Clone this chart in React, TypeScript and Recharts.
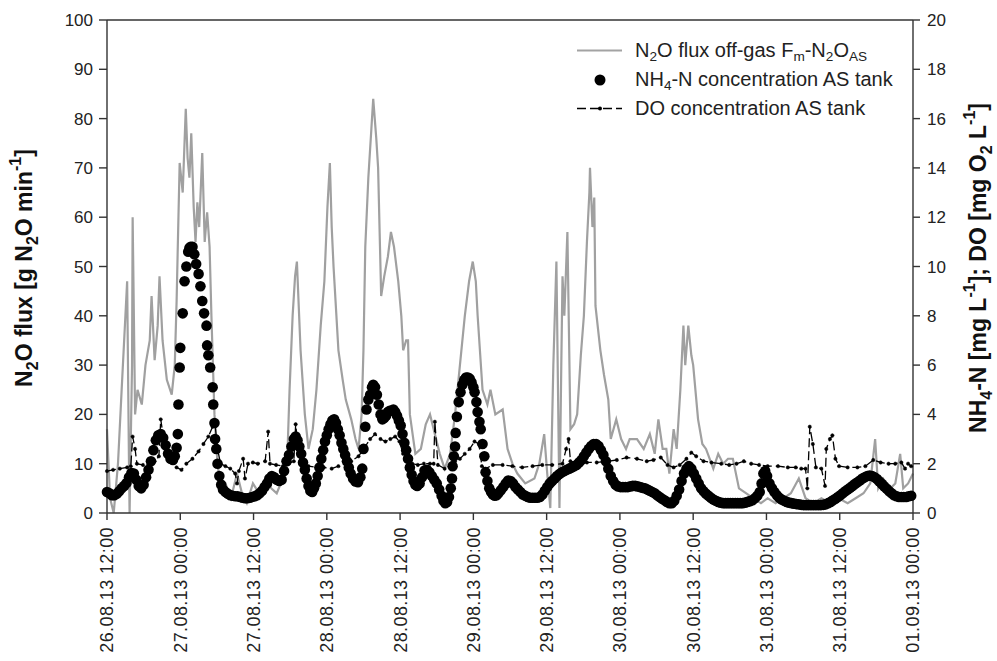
import React from 'react';
import { ComposedChart, Line, Scatter, XAxis, YAxis, ReferenceLine } from 'recharts';

// hours since 26.08.13 12:00
const tickHours = [0, 12, 24, 36, 48, 60, 72, 84, 96, 108, 120, 132];
const tickLabels = [
  '26.08.13 12:00', '27.08.13 00:00', '27.08.13 12:00', '28.08.13 00:00',
  '28.08.13 12:00', '29.08.13 00:00', '29.08.13 12:00', '30.08.13 00:00',
  '30.08.13 12:00', '31.08.13 00:00', '31.08.13 12:00', '01.09.13 00:00',
];
const fluxTicks = [0, 10, 20, 30, 40, 50, 60, 70, 80, 90, 100];
const concTicks = [0, 2, 4, 6, 8, 10, 12, 14, 16, 18, 20];

// N2O flux off-gas [g N2O/min]: [hour, value]
const n2oFlux: [number, number][] = [
  [0, 17], [0.5, 3], [1.1, 0], [1.8, 10], [2.4, 25], [3.3, 47], [3.6, 10], [3.7, 0], [4.1, 30], [4.2, 60],
  [4.6, 20], [5.0, 25], [5.7, 22], [6.3, 30], [7.0, 35], [7.3, 44], [7.8, 31], [8.3, 38], [8.6, 48], [9.1, 35],
  [9.8, 27], [10.6, 24], [11.1, 30], [11.4, 43], [11.7, 60], [11.9, 71], [12.4, 65], [12.9, 82], [13.2, 72], [13.5, 68],
  [13.8, 77], [14.2, 62], [14.5, 55], [14.8, 63], [15.1, 58], [15.6, 73], [16.0, 55], [16.4, 61], [16.8, 54], [17.1, 40],
  [17.6, 20], [18.1, 10], [18.6, 5], [19.4, 6], [20.3, 3], [21.3, 8], [22.1, 4], [22.9, 2], [23.9, 6], [24.9, 4],
  [25.9, 7], [26.9, 5], [27.8, 4], [28.8, 7], [29.5, 10], [29.9, 25], [30.4, 40], [30.8, 48], [31.1, 51], [31.4, 42],
  [31.7, 33], [32.4, 20], [33.0, 13], [33.7, 17], [34.3, 25], [35.0, 38], [35.6, 47], [36.1, 62], [36.5, 71], [36.8, 58],
  [37.1, 50], [37.9, 33], [38.6, 27], [39.1, 23], [40.0, 19], [40.7, 15], [41.2, 13], [41.7, 20], [42.0, 33], [42.3, 54],
  [42.8, 68], [43.3, 78], [43.6, 84], [44.1, 76], [44.4, 70], [44.9, 44], [45.4, 48], [46.0, 52], [46.5, 57], [47.0, 54],
  [47.7, 47], [48.2, 40], [48.5, 33], [49.0, 35], [49.3, 35], [49.6, 20], [50.5, 12], [51.4, 13], [52.2, 18], [52.9, 20],
  [53.7, 16], [54.5, 12], [55.3, 9], [56.2, 12], [57.0, 20], [57.8, 30], [58.6, 40], [59.3, 47], [59.9, 51], [60.4, 47],
  [60.7, 40], [61.5, 25], [62.3, 22], [62.8, 25], [63.6, 20], [64.8, 21], [65.6, 13], [66.4, 10], [67.2, 8], [68.5, 6],
  [70.0, 7], [70.8, 10], [71.6, 16], [72.1, 8], [72.6, 1], [73.1, 30], [73.6, 51], [74.1, 1], [74.4, 30], [74.6, 48],
  [74.9, 40], [75.4, 57], [75.9, 17], [76.5, 18], [77.0, 20], [77.6, 32], [78.1, 40], [78.6, 55], [79.0, 65], [79.1, 70],
  [79.5, 58], [79.8, 64], [80.0, 42], [80.8, 33], [81.4, 28], [82.1, 23], [82.5, 15], [83.4, 19], [84.2, 15], [85.0, 13],
  [85.6, 15], [86.8, 15], [87.9, 13], [88.9, 16], [89.7, 12], [90.3, 19], [91.0, 13], [91.6, 13], [92.1, 8], [92.8, 17],
  [93.3, 13], [93.9, 25], [94.4, 38], [94.7, 30], [95.2, 38], [95.7, 32], [96.0, 30], [96.8, 19], [97.5, 14], [98.1, 13],
  [99.3, 9], [100.1, 12], [100.9, 10], [101.7, 11], [102.5, 11], [103.5, 5], [104.7, 4], [105.8, 3], [107.1, 2], [108.2, 3],
  [109.5, 2], [110.8, 3], [112.0, 4], [113.3, 7], [114.4, 3], [115.7, 2], [117.0, 3], [118.5, 2], [119.8, 3], [121.3, 2],
  [122.6, 3], [123.9, 4], [125.0, 6], [125.8, 15], [126.3, 5], [127.1, 7], [128.3, 5], [129.1, 6], [129.9, 12], [130.4, 5],
  [131.2, 6], [132, 8],
];

// NH4-N concentration AS tank [mg/L]: [hour, value]
const nh4Conc: [number, number][] = [
  [0, 0.85], [0.4, 0.8], [0.8, 0.72], [1.2, 0.72], [1.6, 0.78], [2.0, 0.88], [2.4, 1.0], [2.8, 1.1], [3.2, 1.22], [3.6, 1.45],
  [4.0, 1.62], [4.4, 1.6], [4.8, 1.35], [5.2, 1.1], [5.6, 1.0], [6.0, 1.15], [6.4, 1.45], [6.8, 1.75], [7.2, 2.1], [7.6, 2.55],
  [8.0, 2.95], [8.4, 3.15], [8.8, 3.2], [9.2, 3.05], [9.6, 2.75], [10.0, 2.4], [10.4, 2.2], [10.8, 2.15], [11.1, 2.3], [11.4, 2.65],
  [11.6, 3.2], [11.7, 4.4], [11.9, 5.9], [12.0, 6.7], [12.4, 8.1], [12.7, 9.4], [13.0, 10.0], [13.3, 10.6], [13.5, 10.75], [13.7, 10.8],
  [14.0, 10.8], [14.3, 10.5], [14.6, 10.1], [15.0, 9.7], [15.3, 9.2], [15.6, 8.6], [15.9, 8.1], [16.3, 7.6], [16.4, 6.8], [16.6, 6.4],
  [16.9, 5.9], [17.3, 5.1], [17.4, 4.4], [17.6, 3.65], [17.7, 3.0], [17.9, 2.6], [18.1, 2.0], [18.4, 1.5], [18.7, 1.15], [19.0, 0.95],
  [19.4, 0.85], [19.8, 0.78], [20.2, 0.72], [20.6, 0.7], [21.0, 0.68], [21.4, 0.68], [21.8, 0.65], [22.2, 0.62], [22.6, 0.6], [23.0, 0.6],
  [23.4, 0.62], [23.8, 0.65], [24.2, 0.68], [24.6, 0.72], [25.0, 0.8], [25.4, 0.9], [25.8, 1.05], [26.2, 1.2], [26.6, 1.4], [27.0, 1.5],
  [27.4, 1.45], [27.8, 1.35], [28.2, 1.3], [28.6, 1.35], [29.0, 1.7], [29.4, 2.1], [29.8, 2.35], [30.2, 2.7], [30.6, 3.0], [30.9, 3.1],
  [31.2, 2.95], [31.5, 2.7], [31.8, 2.4], [32.1, 2.05], [32.4, 1.75], [32.7, 1.4], [33.0, 1.1], [33.3, 0.9], [33.6, 0.85], [33.9, 1.0],
  [34.2, 1.2], [34.5, 1.5], [34.8, 1.85], [35.1, 2.2], [35.4, 2.55], [35.7, 2.9], [36.0, 3.15], [36.3, 3.4], [36.6, 3.6], [36.9, 3.75],
  [37.2, 3.8], [37.5, 3.65], [37.8, 3.4], [38.1, 3.15], [38.4, 2.85], [38.7, 2.6], [39.0, 2.35], [39.3, 2.1], [39.6, 1.85], [39.9, 1.6],
  [40.3, 1.4], [40.7, 1.28], [41.1, 1.25], [41.5, 1.45], [41.8, 1.8], [42.0, 2.6], [42.3, 3.5], [42.5, 4.2], [42.8, 4.6], [43.1, 4.8],
  [43.4, 5.1], [43.6, 5.2], [43.9, 5.1], [44.2, 4.8], [44.5, 4.4], [44.8, 4.0], [45.1, 3.8], [45.4, 3.85], [45.7, 3.95], [46.0, 4.1],
  [46.3, 4.15], [46.6, 4.15], [46.9, 4.2], [47.2, 4.1], [47.5, 3.95], [47.8, 3.75], [48.1, 3.55], [48.4, 3.2], [48.7, 2.85], [49.0, 2.55],
  [49.3, 2.2], [49.6, 1.85], [49.9, 1.55], [50.2, 1.3], [50.5, 1.15], [50.8, 1.1], [51.2, 1.2], [51.6, 1.45], [52.0, 1.72], [52.4, 1.75],
  [52.8, 1.65], [53.2, 1.5], [53.6, 1.35], [54.0, 1.2], [54.4, 0.95], [54.8, 0.7], [55.1, 0.5], [55.4, 0.4], [55.7, 0.45], [56.0, 0.65],
  [56.3, 1.0], [56.5, 1.4], [56.6, 1.9], [56.8, 2.3], [57.0, 2.7], [57.1, 3.25], [57.3, 3.9], [57.6, 4.5], [57.9, 4.9], [58.2, 5.2],
  [58.5, 5.4], [58.8, 5.5], [59.1, 5.5], [59.4, 5.45], [59.7, 5.3], [60.0, 5.1], [60.2, 4.9], [60.5, 4.5], [60.7, 4.1], [61.0, 3.7],
  [61.2, 3.4], [61.5, 2.8], [61.8, 2.3], [62.0, 1.65], [62.3, 1.3], [62.6, 1.0], [62.9, 0.85], [63.2, 0.75], [63.5, 0.7], [63.8, 0.72],
  [64.1, 0.8], [64.5, 0.92], [64.9, 1.05], [65.3, 1.2], [65.7, 1.32], [66.1, 1.3], [66.5, 1.2], [66.9, 1.05], [67.3, 0.95], [67.7, 0.85],
  [68.1, 0.75], [68.5, 0.7], [68.9, 0.65], [69.3, 0.62], [69.7, 0.62], [70.1, 0.62], [70.5, 0.62], [70.9, 0.65], [71.3, 0.75], [71.7, 0.9],
  [72.1, 1.05], [72.5, 1.2], [72.9, 1.3], [73.3, 1.4], [73.7, 1.5], [74.1, 1.58], [74.5, 1.65], [74.9, 1.7], [75.3, 1.75], [75.7, 1.8],
  [76.1, 1.85], [76.5, 1.9], [76.9, 1.95], [77.3, 2.05], [77.7, 2.15], [78.1, 2.3], [78.5, 2.45], [78.9, 2.6], [79.3, 2.72], [79.7, 2.8],
  [80.1, 2.8], [80.5, 2.72], [80.9, 2.55], [81.3, 2.35], [81.7, 2.1], [82.1, 1.8], [82.5, 1.5], [82.9, 1.3], [83.3, 1.15], [83.7, 1.08],
  [84.1, 1.05], [84.5, 1.05], [84.9, 1.05], [85.3, 1.05], [85.7, 1.08], [86.1, 1.1], [86.5, 1.1], [86.9, 1.08], [87.3, 1.05], [87.7, 1.02],
  [88.1, 1.0], [88.5, 0.95], [88.9, 0.9], [89.3, 0.85], [89.7, 0.8], [90.1, 0.72], [90.5, 0.65], [90.9, 0.58], [91.3, 0.52], [91.7, 0.45],
  [92.1, 0.4], [92.5, 0.4], [92.9, 0.5], [93.3, 0.7], [93.7, 0.95], [94.1, 1.3], [94.5, 1.6], [94.9, 1.8], [95.3, 1.9], [95.7, 1.8],
  [96.1, 1.6], [96.5, 1.4], [96.9, 1.2], [97.3, 1.0], [97.7, 0.88], [98.1, 0.78], [98.5, 0.7], [98.9, 0.62], [99.3, 0.55], [99.7, 0.5],
  [100.1, 0.45], [100.5, 0.42], [100.9, 0.4], [101.3, 0.4], [101.7, 0.4], [102.1, 0.4], [102.5, 0.4], [102.9, 0.4], [103.3, 0.4], [103.7, 0.4],
  [104.1, 0.4], [104.5, 0.42], [104.9, 0.45], [105.3, 0.48], [105.7, 0.52], [106.1, 0.6], [106.5, 0.7], [106.9, 0.85], [107.2, 1.2], [107.5, 1.6],
  [107.8, 1.7], [108.1, 1.5], [108.5, 1.2], [108.9, 1.0], [109.3, 0.85], [109.7, 0.72], [110.1, 0.62], [110.5, 0.55], [110.9, 0.5], [111.3, 0.45],
  [111.7, 0.42], [112.1, 0.4], [112.5, 0.38], [112.9, 0.36], [113.3, 0.35], [113.7, 0.33], [114.1, 0.32], [114.5, 0.32], [114.9, 0.32], [115.3, 0.32],
  [115.7, 0.32], [116.1, 0.32], [116.5, 0.32], [116.9, 0.32], [117.3, 0.33], [117.7, 0.35], [118.1, 0.4], [118.5, 0.45], [118.9, 0.52], [119.3, 0.58],
  [119.7, 0.65], [120.1, 0.72], [120.5, 0.8], [120.9, 0.88], [121.3, 0.95], [121.7, 1.02], [122.1, 1.1], [122.5, 1.18], [122.9, 1.25], [123.3, 1.32],
  [123.7, 1.4], [124.1, 1.45], [124.5, 1.5], [124.9, 1.52], [125.3, 1.5], [125.7, 1.45], [126.1, 1.38], [126.5, 1.28], [126.9, 1.18], [127.3, 1.08],
  [127.7, 0.98], [128.1, 0.88], [128.5, 0.8], [128.9, 0.72], [129.3, 0.68], [129.7, 0.65], [130.1, 0.65], [130.5, 0.65], [130.9, 0.65], [131.3, 0.68],
  [131.7, 0.7],
];

// DO concentration AS tank [mg O2/L]: [hour, value]
const doConc: [number, number][] = [
  [0, 1.7], [1.0, 1.75], [2.1, 1.8], [3.3, 1.85], [3.9, 1.9], [4.2, 3.1], [4.6, 2.6], [4.9, 2.0], [5.9, 1.95], [7.0, 2.0],
  [7.8, 2.1], [8.5, 2.3], [8.8, 3.8], [9.1, 3.3], [9.6, 2.4], [10.4, 2.2], [11.4, 1.85], [12.2, 1.75], [13.0, 2.0], [14.0, 2.2],
  [15.0, 2.5], [15.8, 2.8], [16.6, 3.1], [17.3, 3.5], [17.7, 3.6], [18.1, 2.6], [18.6, 2.0], [19.4, 1.9], [20.2, 1.8], [21.0, 1.6],
  [21.3, 1.2], [21.6, 1.7], [22.3, 2.2], [22.6, 1.4], [23.1, 2.0], [23.9, 2.05], [24.7, 2.0], [25.9, 2.1], [26.4, 3.3], [26.7, 2.0],
  [27.7, 1.95], [28.8, 1.9], [29.8, 2.0], [30.6, 2.1], [30.9, 3.6], [31.4, 2.4], [31.9, 2.0], [33.0, 1.9], [34.3, 1.85], [35.5, 1.85],
  [36.8, 1.8], [37.9, 1.9], [39.1, 2.0], [40.0, 2.1], [41.2, 2.3], [42.3, 2.7], [43.1, 3.0], [43.9, 3.2], [44.8, 3.0], [45.6, 2.9],
  [46.4, 3.0], [47.2, 3.1], [47.9, 2.9], [48.5, 2.4], [49.2, 2.1], [50.0, 2.0], [50.9, 1.95], [51.9, 2.0], [52.9, 2.0], [53.5, 2.0],
  [53.7, 3.7], [54.2, 1.95], [55.3, 1.8], [56.2, 1.9], [57.0, 2.1], [57.8, 2.2], [58.6, 2.4], [59.4, 2.6], [60.2, 2.9], [60.9, 2.8],
  [61.4, 1.9], [62.0, 1.8], [63.2, 1.95], [64.8, 1.95], [66.4, 1.9], [68.0, 1.85], [69.7, 1.9], [71.3, 1.95], [72.9, 1.95], [74.6, 2.0],
  [75.2, 2.6], [75.6, 3.0], [75.9, 2.1], [77.0, 2.0], [78.6, 2.05], [80.2, 2.05], [82.1, 2.1], [83.5, 2.15], [85.1, 2.25], [86.8, 2.2],
  [88.4, 2.1], [89.5, 2.15], [90.7, 2.25], [91.8, 1.95], [92.8, 1.85], [93.8, 1.95], [94.9, 2.2], [95.7, 2.45], [96.5, 2.3], [97.7, 2.1],
  [99.0, 2.05], [100.6, 2.0], [101.9, 1.95], [103.1, 2.0], [104.3, 2.1], [105.5, 2.0], [106.8, 1.95], [108.2, 1.9], [109.9, 1.9], [111.5, 1.85],
  [112.8, 1.85], [113.7, 1.8], [114.4, 1.8], [114.7, 1.0], [115.1, 3.5], [115.6, 2.8], [116.1, 1.85], [117.0, 1.8], [117.6, 1.1], [117.8, 2.6],
  [118.4, 3.0], [118.8, 3.15], [119.3, 2.2], [119.9, 1.9], [121.3, 1.85], [122.9, 1.85], [124.2, 1.9], [125.5, 2.15], [126.7, 2.05], [128.0, 2.0],
  [129.1, 2.0], [130.1, 2.05], [130.7, 1.8], [131.2, 2.0], [131.7, 1.9],
];

const toRows = (arr: [number, number][]) => arr.map(([t, v]) => ({ t, v }));

const FONT = '"Liberation Sans", Arial, Helvetica, sans-serif';
const AXIS = '#333';

const TimeTick = (props: any) => {
  const { x, y, payload } = props;
  const idx = tickHours.indexOf(payload.value);
  return (
    <text
      x={x}
      y={y}
      transform={`rotate(-90, ${x}, ${y})`}
      dy="0.36em"
      textAnchor="end"
      fontSize={18}
      fontFamily={FONT}
      fill="#222"
      letterSpacing={0.4}
    >
      {tickLabels[idx]}
    </text>
  );
};

const LeftTitle = () => (
  <text
    x={24}
    y={268}
    transform="rotate(-90, 24, 268)"
    textAnchor="middle"
    dominantBaseline="central"
    fontSize={23}
    fontWeight="bold"
    fontFamily={FONT}
    fill="#111"
  >
    N<tspan baselineShift="sub" fontSize={16}>2</tspan>O flux [g N<tspan baselineShift="sub" fontSize={16}>2</tspan>O min<tspan baselineShift="super" fontSize={16}>-1</tspan>]
  </text>
);

const RightTitle = () => (
  <text
    x={978}
    y={268}
    transform="rotate(-90, 978, 268)"
    textAnchor="middle"
    dominantBaseline="central"
    fontSize={23}
    fontWeight="bold"
    fontFamily={FONT}
    fill="#111"
  >
    NH<tspan baselineShift="sub" fontSize={16}>4</tspan>-N [mg L<tspan baselineShift="super" fontSize={16}>-1</tspan>]; DO [mg O<tspan baselineShift="sub" fontSize={16}>2</tspan> L<tspan baselineShift="super" fontSize={16}>-1</tspan>]
  </text>
);

const Sub = ({ children }: { children: React.ReactNode }) => (
  <span style={{ fontSize: '0.68em', verticalAlign: '-0.3em', lineHeight: 0 }}>{children}</span>
);

const legendRow: React.CSSProperties = { height: 29, lineHeight: '29px', whiteSpace: 'nowrap' };

const ChartLegend = () => (
  <div style={{ position: 'absolute', left: 572, top: 36, fontFamily: FONT, fontSize: 20, color: '#222' }}>
    <svg width={56} height={87} style={{ position: 'absolute', left: 0, top: 0 }}>
      <line x1={5} x2={50} y1={14.5} y2={14.5} stroke="#a3a3a3" strokeWidth={2} />
      <circle cx={28} cy={44} r={5.5} fill="#000" />
      <line x1={5} x2={50} y1={72.5} y2={72.5} stroke="#000" strokeWidth={1.3} strokeDasharray="9 4" />
      <circle cx={28} cy={72.5} r={2} fill="#000" />
    </svg>
    <div style={{ marginLeft: 63 }}>
      <div style={legendRow}>N<Sub>2</Sub>O flux off-gas F<Sub>m</Sub>-N<Sub>2</Sub>O<Sub>AS</Sub></div>
      <div style={legendRow}>NH<Sub>4</Sub>-N concentration AS tank</div>
      <div style={legendRow}>DO concentration AS tank</div>
    </div>
  </div>
);

const Dot = (props: any) => <circle cx={props.cx} cy={props.cy} r={5.3} fill="#000" />;

export default function App() {
  return (
    <div style={{ position: 'absolute', left: 0, top: 0, width: 997, height: 661, background: '#fff' }}>
      <ComposedChart width={997} height={661} margin={{ top: 20, right: 0, bottom: 0, left: 0 }}>
        <XAxis
          type="number"
          dataKey="t"
          domain={[0, 132]}
          ticks={tickHours}
          interval={0}
          height={148}
          tick={<TimeTick />}
          tickSize={7}
          tickMargin={7}
          axisLine={{ stroke: AXIS, strokeWidth: 1.4 }}
          tickLine={{ stroke: AXIS, strokeWidth: 1.4 }}
        />
        <YAxis
          yAxisId="left"
          orientation="left"
          type="number"
          domain={[0, 100]}
          ticks={fluxTicks}
          interval={0}
          width={107}
          tickSize={8}
          tickMargin={6}
          tick={{ fontSize: 17, fontFamily: FONT, fill: '#222' }}
          axisLine={{ stroke: AXIS, strokeWidth: 1.4 }}
          tickLine={{ stroke: AXIS, strokeWidth: 1.4 }}
          label={<LeftTitle />}
        />
        <YAxis
          yAxisId="right"
          orientation="right"
          type="number"
          domain={[0, 20]}
          ticks={concTicks}
          interval={0}
          width={84}
          tickSize={7}
          tickMargin={7}
          tick={{ fontSize: 17, fontFamily: FONT, fill: '#222', textAnchor: 'start' }}
          axisLine={{ stroke: AXIS, strokeWidth: 1.4 }}
          tickLine={{ stroke: AXIS, strokeWidth: 1.4 }}
          label={<RightTitle />}
        />
        <ReferenceLine yAxisId="left" y={100} stroke={AXIS} strokeWidth={1.4} />
        <Line
          yAxisId="left"
          data={toRows(n2oFlux)}
          dataKey="v"
          type="linear"
          stroke="#a0a0a0"
          strokeWidth={2.2}
          dot={false}
          isAnimationActive={false}
        />
        <Scatter
          yAxisId="right"
          data={toRows(nh4Conc)}
          dataKey="v"
          shape={<Dot />}
          isAnimationActive={false}
        />
        <Line
          yAxisId="right"
          data={toRows(doConc)}
          dataKey="v"
          type="linear"
          stroke="#000"
          strokeWidth={1.3}
          strokeDasharray="9 4"
          dot={{ r: 1.7, fill: '#000', stroke: '#000', strokeWidth: 0.5 }}
          isAnimationActive={false}
        />
      </ComposedChart>
      <ChartLegend />
    </div>
  );
}
